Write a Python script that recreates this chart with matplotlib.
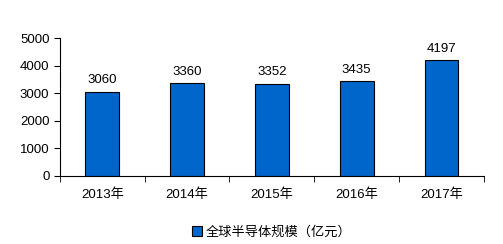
import matplotlib.pyplot as plt

# Data
years = ["2013年", "2014年", "2015年", "2016年", "2017年"]
values = [3060, 3360, 3352, 3435, 4197]

plt.rcParams['font.family'] = ['Liberation Sans', 'Noto Sans CJK SC', 'DejaVu Sans']

fig = plt.figure(figsize=(5.03, 2.44), dpi=100)
ax = fig.add_axes([0.119, 0.279, 0.843, 0.565])

x = range(len(years))
bars = ax.bar(x, values, width=0.4, color="#0066CC", edgecolor="black", linewidth=0.8,
              label="全球半导体规模（亿元）")
for xi, v in zip(x, values):
    ax.text(xi, v + 200, str(v), ha="center", va="bottom", fontsize=9.5)

ax.set_xlim(-0.5, len(years) - 0.5)
ax.set_ylim(0, 5000)
ax.set_yticks(range(0, 5001, 1000))
ax.set_xticks(x)
ax.set_xticklabels(years, fontsize=9.5)
ax.set_xticks([i + 0.5 for i in range(-1, len(years))], minor=True)
ax.tick_params(axis="x", which="major", length=0, pad=9)
ax.tick_params(axis="x", which="minor", length=4, direction="out")
ax.tick_params(axis="y", labelsize=9.5, length=4, direction="out")
for s in ["top", "right"]:
    ax.spines[s].set_visible(False)

ax.legend(loc="center", bbox_to_anchor=(0.5, -0.41), frameon=False, fontsize=9.5,
          handlelength=0.7, handleheight=0.7, handletextpad=0.3)

plt.savefig("out.png", dpi=100)
